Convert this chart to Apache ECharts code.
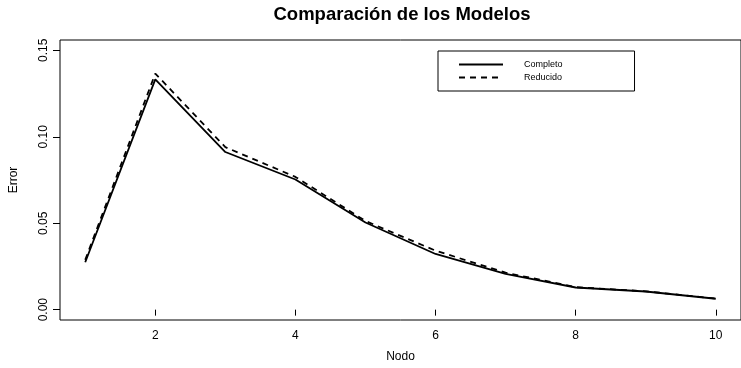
<!DOCTYPE html>
<html>
<head>
<meta charset="utf-8">
<script src="https://cdn.jsdelivr.net/npm/echarts@6/dist/echarts.min.js"></script>
<style>
  html, body { margin: 0; padding: 0; background: #fff; }
  #chart { width: 741px; height: 368px; }
</style>
</head>
<body>
<div id="chart"></div>
<script>
// Error por nodo para los dos modelos
const nodos = [1, 2, 3, 4, 5, 6, 7, 8, 9, 10];
const completo = [0.0274, 0.1332, 0.0912, 0.0753, 0.0504, 0.0322, 0.0207, 0.0128, 0.0105, 0.0063];
const reducido = [0.0288, 0.1366, 0.0940, 0.0768, 0.0513, 0.0341, 0.0214, 0.0130, 0.0106, 0.0064];

const xTicks = [2, 4, 6, 8, 10];
const yTicks = [0, 0.05, 0.10, 0.15];

const FONT = 'Liberation Sans, Arial, Helvetica, sans-serif';

const chart = echarts.init(document.getElementById('chart'), null, { renderer: 'canvas' });

chart.setOption({
  animation: false,
  backgroundColor: '#ffffff',
  title: {
    text: 'Comparación de los Modelos',
    left: 402,
    top: 5,
    textAlign: 'center',
    padding: 0,
    textStyle: { fontFamily: FONT, fontSize: 18.5, fontWeight: 'bold', color: '#000' }
  },
  legend: {
    orient: 'vertical',
    left: 438,
    top: 51,
    padding: [9, 72, 9, 20],
    itemWidth: 44,
    itemHeight: 10,
    itemGap: 4,
    borderColor: '#000',
    borderWidth: 1,
    borderRadius: 0,
    itemStyle: { opacity: 0 },
    textStyle: { fontFamily: FONT, fontSize: 9, color: '#000', padding: [0, 0, 0, 16] },
    data: ['Completo', 'Reducido']
  },
  grid: {
    left: 59,
    top: 40,
    width: 686,
    height: 281,
    show: true,
    borderColor: '#000',
    borderWidth: 1,
    backgroundColor: 'transparent'
  },
  xAxis: {
    type: 'value',
    min: 0.64,
    max: 10.36,
    name: 'Nodo',
    nameLocation: 'middle',
    nameGap: 31,
    nameTextStyle: { fontFamily: FONT, fontSize: 12, color: '#000', verticalAlign: 'top' },
    axisLine: { show: false },
    splitLine: { show: false },
    axisTick: { show: true, length: 6, customValues: xTicks, lineStyle: { color: '#000', width: 1 } },
    axisLabel: {
      customValues: xTicks,
      margin: 10,
      fontFamily: FONT, fontSize: 12, color: '#000',
      formatter: v => String(Math.round(v))
    }
  },
  yAxis: {
    type: 'value',
    min: -0.006,
    max: 0.156,
    name: 'Error',
    nameLocation: 'middle',
    nameRotate: 90,
    nameGap: 40,
    nameTextStyle: { fontFamily: FONT, fontSize: 12, color: '#000' },
    axisLine: { show: false },
    splitLine: { show: false },
    axisTick: { show: true, length: 7, customValues: yTicks, lineStyle: { color: '#000', width: 1 } },
    axisLabel: {
      customValues: yTicks,
      rotate: 90,
      margin: 10,
      fontFamily: FONT, fontSize: 12, color: '#000',
      formatter: v => v.toFixed(2)
    }
  },
  series: [
    {
      name: 'Completo',
      type: 'line',
      symbol: 'none',
      data: nodos.map((n, i) => [n, completo[i]]),
      lineStyle: { color: '#000', width: 1.8, type: 'solid' },
      itemStyle: { color: '#000' },
      z: 3
    },
    {
      name: 'Reducido',
      type: 'line',
      symbol: 'none',
      data: nodos.map((n, i) => [n, reducido[i]]),
      lineStyle: { color: '#000', width: 1.8, type: [6, 5] },
      itemStyle: { color: '#000' },
      z: 4
    }
  ]
});
</script>
</body>
</html>
